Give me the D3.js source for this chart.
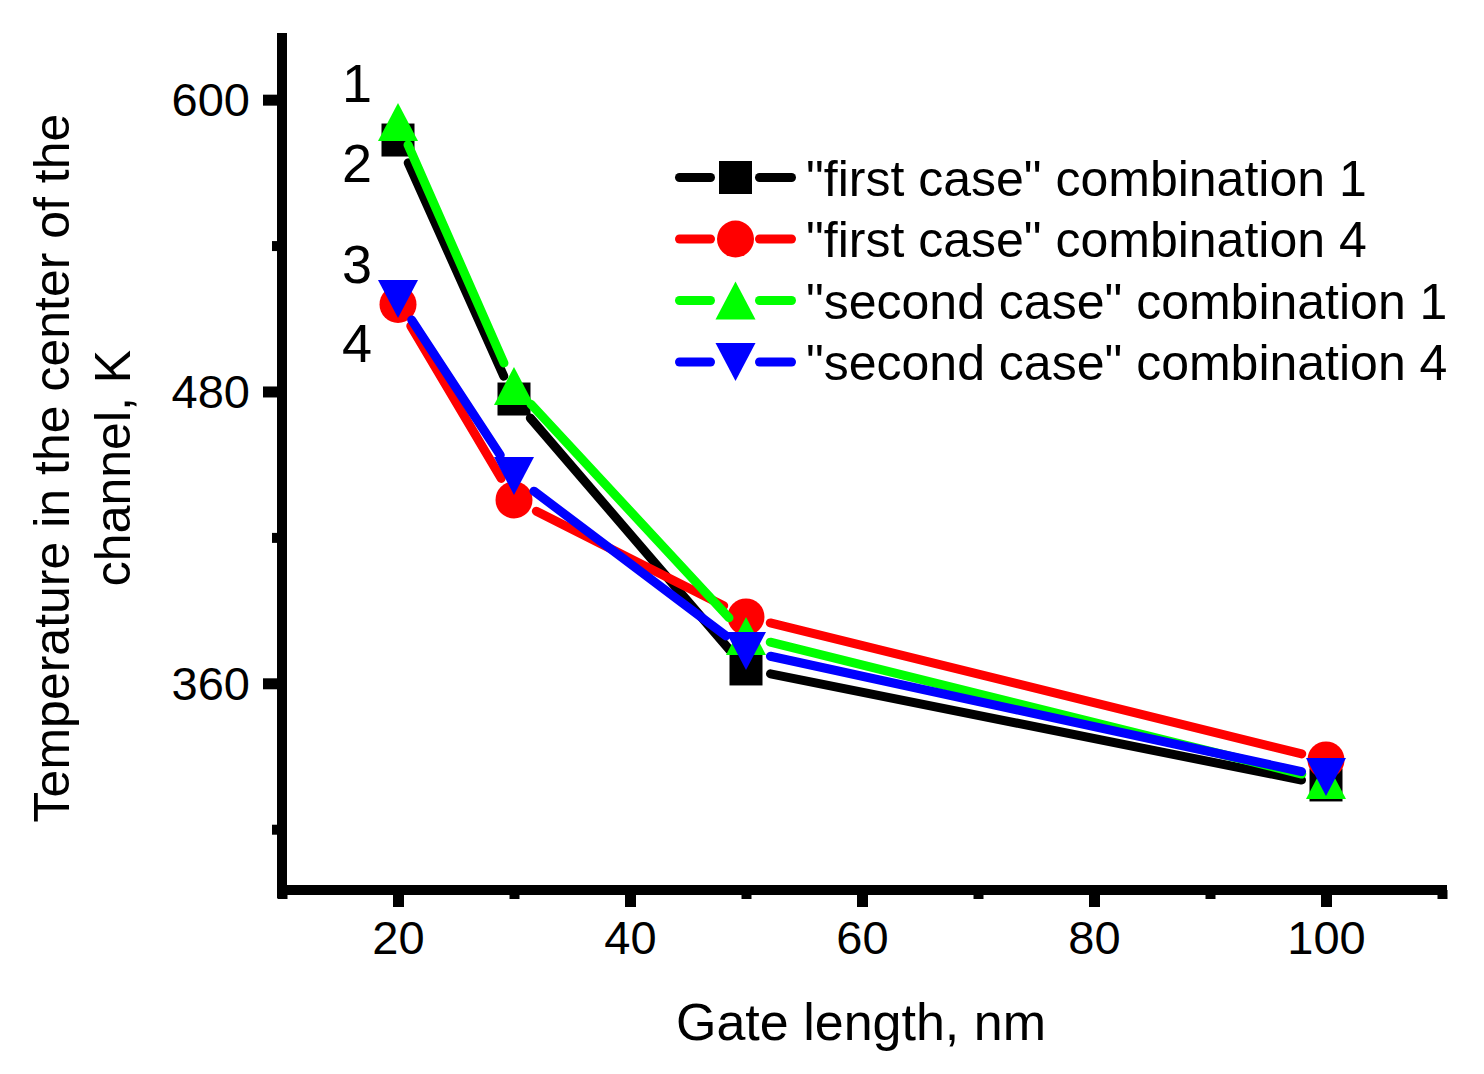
<!DOCTYPE html>
<html>
<head>
<meta charset="utf-8">
<script src="https://cdn.jsdelivr.net/npm/d3@7"></script>
<style>
  body { margin: 0; background: #fff; }
  text { font-family: "Liberation Sans", Arial, sans-serif; fill: #000; }
</style>
</head>
<body>
<div id="chart"></div>
<script>
// gate length, nm
const gateLength = [20, 30, 50, 100]

// temperature in the channel centre, K
const firstCase1 = [583.4, 476.9, 365.9, 318.2]
const firstCase4 = [515.8, 435.4, 387.3, 328.5]
const secondCase1 = [590.8, 482.3, 379.4, 320.2]
const secondCase4 = [518.0, 445.2, 373.3, 321.5]

const seriesNames = [
  '"first case" combination 1',
  '"first case" combination 4',
  '"second case" combination 1',
  '"second case" combination 4'
]
const seriesColors = ["#000000", "#ff0000", "#00ff00", "#0000ff"]
const seriesShapes = ["square", "circle", "up", "down"]

const xMajor = [20, 40, 60, 80, 100]
const xMinor = [10, 30, 50, 70, 90, 110]
const yMajor = [360, 480, 600]
const yMinor = [300, 420, 540]

// curve numbers next to the first points
const curveLabels = ["1", "2", "3", "4"]

const width = 1484, height = 1074

const svg = d3.select("#chart").append("svg")
  .attr("width", width)
  .attr("height", height)

const x = d3.scaleLinear().domain([10, 110]).range([282, 1442])
const y = d3.scaleLinear().domain([275, 627]).range([890, 34])

// axes
const yAxis = d3.axisLeft(y).tickValues(yMajor).tickSize(19).tickSizeOuter(0).tickPadding(13)
const gy = svg.append("g").attr("transform", "translate(" + x.range()[0] + ",0)").call(yAxis)
gy.select(".domain").remove()
gy.selectAll(".tick line").attr("stroke", "#000").attr("stroke-width", 11)
gy.selectAll(".tick text").style("font-size", "47px").attr("dy", "0.34em")

const yMinorAxis = d3.axisLeft(y).tickValues(yMinor).tickSize(10).tickFormat("")
const gym = svg.append("g").attr("transform", "translate(" + x.range()[0] + ",0)").call(yMinorAxis)
gym.select(".domain").remove()
gym.selectAll(".tick line").attr("stroke", "#000").attr("stroke-width", 10)

const xAxis = d3.axisBottom(x).tickValues(xMajor).tickSize(17).tickSizeOuter(0).tickPadding(14)
const gx = svg.append("g").attr("transform", "translate(0," + y.range()[0] + ")").call(xAxis)
gx.select(".domain").remove()
gx.selectAll(".tick line").attr("stroke", "#000").attr("stroke-width", 11)
gx.selectAll(".tick text").style("font-size", "47px").attr("dy", "0.71em")

const xMinorAxis = d3.axisBottom(x).tickValues(xMinor).tickSize(9).tickFormat("")
const gxm = svg.append("g").attr("transform", "translate(0," + y.range()[0] + ")").call(xMinorAxis)
gxm.select(".domain").remove()
gxm.selectAll(".tick line").attr("stroke", "#000").attr("stroke-width", 10)

svg.append("line")
  .attr("x1", x.range()[0]).attr("x2", x.range()[0])
  .attr("y1", y.range()[1] - 1).attr("y2", y.range()[0] + 8)
  .attr("stroke", "#000").attr("stroke-width", 10)

svg.append("line")
  .attr("x1", x.range()[0] - 5).attr("x2", x.range()[1] + 5)
  .attr("y1", y.range()[0]).attr("y2", y.range()[0])
  .attr("stroke", "#000").attr("stroke-width", 10)

// axis titles
svg.append("text")
  .attr("x", 861).attr("y", 1040)
  .attr("text-anchor", "middle")
  .style("font-size", "52px")
  .text("Gate length, nm")

const yTitle = svg.append("g").attr("transform", "translate(0,468) rotate(-90)")
yTitle.append("text")
  .attr("x", 0).attr("y", 69)
  .attr("text-anchor", "middle")
  .style("font-size", "50px")
  .text("Temperature in the center of the")
yTitle.append("text")
  .attr("x", 0).attr("y", 130)
  .attr("text-anchor", "middle")
  .style("font-size", "50px")
  .text("channel, K")

// markers
function marker(sel, shape, color) {
  if (shape == "square") {
    sel.append("rect").attr("x", -16.5).attr("y", -16.5).attr("width", 33).attr("height", 33).attr("fill", color)
  } else if (shape == "circle") {
    sel.append("circle").attr("r", 18.5).attr("fill", color)
  } else if (shape == "up") {
    sel.append("path").attr("d", "M0,-19L20,19L-20,19Z").attr("fill", color)
  } else {
    sel.append("path").attr("d", "M0,19L20,-19L-20,-19Z").attr("fill", color)
  }
}

const allSeries = [firstCase1, firstCase4, secondCase1, secondCase4]
const gap = 25

allSeries.forEach((vals, i) => {
  const pts = gateLength.map((g, j) => [x(g), y(vals[j])])
  const g = svg.append("g")

  // lines with gaps round the symbols
  for (let j = 0; j < pts.length - 1; j++) {
    const [x1, y1] = pts[j], [x2, y2] = pts[j + 1]
    const len = Math.hypot(x2 - x1, y2 - y1)
    const ux = (x2 - x1) / len, uy = (y2 - y1) / len
    g.append("line")
      .attr("x1", x1 + ux * gap).attr("y1", y1 + uy * gap)
      .attr("x2", x2 - ux * gap).attr("y2", y2 - uy * gap)
      .attr("stroke", seriesColors[i])
      .attr("stroke-width", 9)
      .attr("stroke-linecap", "round")
  }

  pts.forEach(p => {
    const m = g.append("g").attr("transform", "translate(" + p[0] + "," + p[1] + ")")
    marker(m, seriesShapes[i], seriesColors[i])
  })
})

// curve numbers
const labelY = [102, 182, 283, 362]
curveLabels.forEach((t, i) => {
  svg.append("text")
    .attr("x", 342).attr("y", labelY[i])
    .style("font-size", "54px")
    .text(t)
})

// legend
const legend = svg.append("g").attr("transform", "translate(0,177.5)")
seriesNames.forEach((name, i) => {
  const row = legend.append("g").attr("transform", "translate(0," + (i * 61.5) + ")")
  row.append("line").attr("x1", 679.5).attr("x2", 710.5).attr("y1", 0).attr("y2", 0)
    .attr("stroke", seriesColors[i]).attr("stroke-width", 9).attr("stroke-linecap", "round")
  row.append("line").attr("x1", 759.5).attr("x2", 791.5).attr("y1", 0).attr("y2", 0)
    .attr("stroke", seriesColors[i]).attr("stroke-width", 9).attr("stroke-linecap", "round")
  const m = row.append("g").attr("transform", "translate(735.5,0)")
  marker(m, seriesShapes[i], seriesColors[i])
  row.append("text")
    .attr("x", 806).attr("y", 18)
    .style("font-size", "50px")
    .text(name)
})
</script>
</body>
</html>
